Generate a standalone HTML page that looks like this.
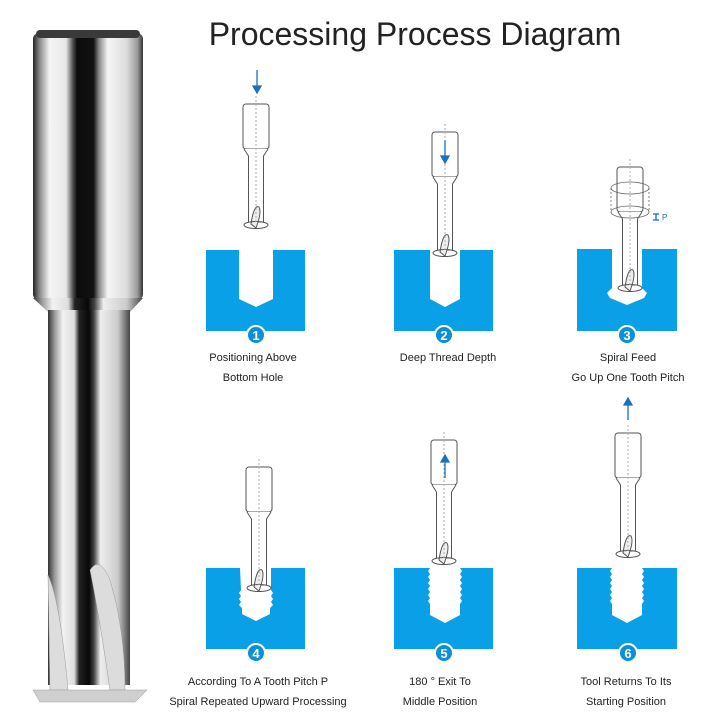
<!DOCTYPE html>
<html><head><style>
body{margin:0;background:#fff;}
svg{display:block;font-family:"Liberation Sans",Arial,sans-serif;}
</style></head><body>
<svg width="720" height="720" viewBox="0 0 720 720" xmlns="http://www.w3.org/2000/svg">
<defs>
<linearGradient id="sh" x1="0" x2="1" y1="0" y2="0">
<stop offset="0" stop-color="#222"/><stop offset="0.06" stop-color="#8a8a8a"/><stop offset="0.15" stop-color="#f4f4f4"/><stop offset="0.3" stop-color="#e8e8e8"/><stop offset="0.36" stop-color="#555"/><stop offset="0.4" stop-color="#0c0c0c"/><stop offset="0.55" stop-color="#111"/><stop offset="0.6" stop-color="#888"/><stop offset="0.68" stop-color="#f6f6f6"/><stop offset="0.85" stop-color="#ddd"/><stop offset="0.95" stop-color="#999"/><stop offset="1" stop-color="#333"/>
</linearGradient>
<linearGradient id="sh2" x1="0" x2="1" y1="0" y2="0">
<stop offset="0" stop-color="#333"/><stop offset="0.08" stop-color="#999"/><stop offset="0.18" stop-color="#f2f2f2"/><stop offset="0.32" stop-color="#ddd"/><stop offset="0.38" stop-color="#222"/><stop offset="0.5" stop-color="#080808"/><stop offset="0.56" stop-color="#444"/><stop offset="0.64" stop-color="#eee"/><stop offset="0.85" stop-color="#ccc"/><stop offset="1" stop-color="#444"/>
</linearGradient>
<g id="tool" fill="#fff" stroke="#555" stroke-width="1">
<rect x="-13" y="0" width="26" height="45" rx="3"/>
<path d="M-12 45 L-7.5 52 L-7.5 118 L7.5 118 L7.5 52 L12 45"/>
<path d="M-5 120 Q-2 100 3 103 Q6 108 0 124 Z" fill="#eee"/>
<ellipse cx="0" cy="121" rx="12" ry="3.5" fill="none"/>
<line x1="0" y1="-8" x2="0" y2="118" stroke="#aaa" stroke-dasharray="2,2"/>
</g>
</defs>
<rect x="33" y="33" width="110" height="267" rx="6" fill="url(#sh)"/>
<rect x="36" y="30" width="104" height="8" rx="4" fill="#3a3a3a"/>
<path d="M33 298 L143 298 L130 312 L48 312 Z" fill="url(#sh2)"/>
<rect x="48" y="310" width="82" height="375" fill="url(#sh2)"/>
<path d="M48 575 Q60 600 68 690 L50 690 Z" fill="#ddd" stroke="#999" stroke-width="0.5"/>
<path d="M90 570 Q100 555 110 580 Q125 630 125 690 L110 690 Q100 620 90 570Z" fill="#dcdcdc" stroke="#999" stroke-width="0.5"/>
<path d="M33 690 L147 690 L135 702 L40 702 Z" fill="#cfcfcf" stroke="#999" stroke-width="0.5"/>
<text x="415" y="45" font-size="32" text-anchor="middle" fill="#222">Processing Process Diagram</text>
<g fill="#0aa0e8">
<rect x="206" y="250" width="99" height="81"/><rect x="394" y="250" width="99" height="81"/><rect x="577" y="249" width="100" height="82"/>
<rect x="206" y="568" width="99" height="81"/><rect x="394" y="568" width="99" height="81"/><rect x="577" y="568" width="100" height="81"/>
</g>
<g fill="#fff">
<path d="M239 250 L273 250 L273 299 L256 307 L239 299Z"/>
<path d="M430 250 L460 250 L460 299 L445 307 L430 299Z"/>
<path d="M612 249 L642 249 L642 288 L647 293 L644 298 L627 305 L610 298 L607 293 L612 288Z"/>
<path d="M240 568 L271 568 L271 590 L273 593 L271 596 L273 599 L271 602 L273 605 L270 608 L270 614 L256 621 L242 614 L242 608 L239 605 L241 602 L239 599 L241 596 L239 593 L241 590Z"/>
<path d="M430 568 L460 568 L462 571 L460 574 L462 577 L460 580 L462 583 L460 586 L462 589 L460 592 L462 595 L460 598 L462 601 L460 604 L460 615 L445 623 L430 615 L430 604 L428 601 L430 598 L428 595 L430 592 L428 589 L430 586 L428 583 L430 580 L428 577 L430 574 L428 571Z"/>
<path d="M612 568 L642 568 L644 571 L642 574 L644 577 L642 580 L644 583 L642 586 L644 589 L642 592 L644 595 L642 598 L644 601 L642 604 L642 615 L627 623 L612 615 L612 604 L610 601 L612 598 L610 595 L612 592 L610 589 L612 586 L610 583 L612 580 L610 577 L612 574 L610 571Z"/>
</g>
<use href="#tool" x="256" y="104"/>
<use href="#tool" x="445" y="132"/>
<use href="#tool" x="630" y="167"/>
<use href="#tool" x="259" y="467"/>
<use href="#tool" x="444" y="440"/>
<use href="#tool" x="628" y="433"/>
<g fill="none" stroke="#666" stroke-width="0.8">
<ellipse cx="630" cy="188" rx="19" ry="6"/><ellipse cx="630" cy="212" rx="19" ry="6"/>
<line x1="611" y1="188" x2="611" y2="212" stroke-dasharray="2,2"/><line x1="649" y1="188" x2="649" y2="212" stroke-dasharray="2,2"/>
</g>
<g stroke="#1a6fc0" fill="#1a6fc0" stroke-width="1.3">
<line x1="653" y1="214" x2="659" y2="214"/><line x1="653" y1="220" x2="659" y2="220"/><line x1="656" y1="214" x2="656" y2="220"/>
<line x1="257" y1="70" x2="257" y2="88"/><path d="M253 86 L261 86 L257 93Z"/>
<line x1="445" y1="140" x2="445" y2="158"/><path d="M441 156 L449 156 L445 163Z"/>
<line x1="445" y1="478" x2="445" y2="460"/><path d="M441 462 L449 462 L445 455Z"/>
<line x1="628" y1="420" x2="628" y2="403"/><path d="M624 405 L632 405 L628 398Z"/>
</g>
<text x="662" y="220" font-size="8" fill="#1a6fc0">P</text>
<g fill="#0a8fd8" stroke="#fff" stroke-width="2">
<circle cx="256" cy="335" r="9"/><circle cx="444" cy="335" r="9"/><circle cx="627" cy="335" r="9"/>
<circle cx="256" cy="653" r="9"/><circle cx="444" cy="653" r="9"/><circle cx="628" cy="653" r="9"/>
</g>
<g fill="#fff" font-size="13" font-weight="bold" text-anchor="middle">
<text x="256" y="340">1</text><text x="444" y="340">2</text><text x="627" y="340">3</text>
<text x="256" y="658">4</text><text x="444" y="658">5</text><text x="628" y="658">6</text>
</g>
<g font-size="11" fill="#222" text-anchor="middle">
<text x="253" y="361">Positioning Above</text><text x="253" y="381">Bottom Hole</text>
<text x="448" y="361">Deep Thread Depth</text>
<text x="628" y="361">Spiral Feed</text><text x="628" y="381">Go Up One Tooth Pitch</text>
<text x="258" y="685">According To A Tooth Pitch P</text><text x="258" y="705">Spiral Repeated Upward Processing</text>
<text x="440" y="685">180 ° Exit To</text><text x="440" y="705">Middle Position</text>
<text x="626" y="685">Tool Returns To Its</text><text x="626" y="705">Starting Position</text>
</g>
</svg>
</body></html>
